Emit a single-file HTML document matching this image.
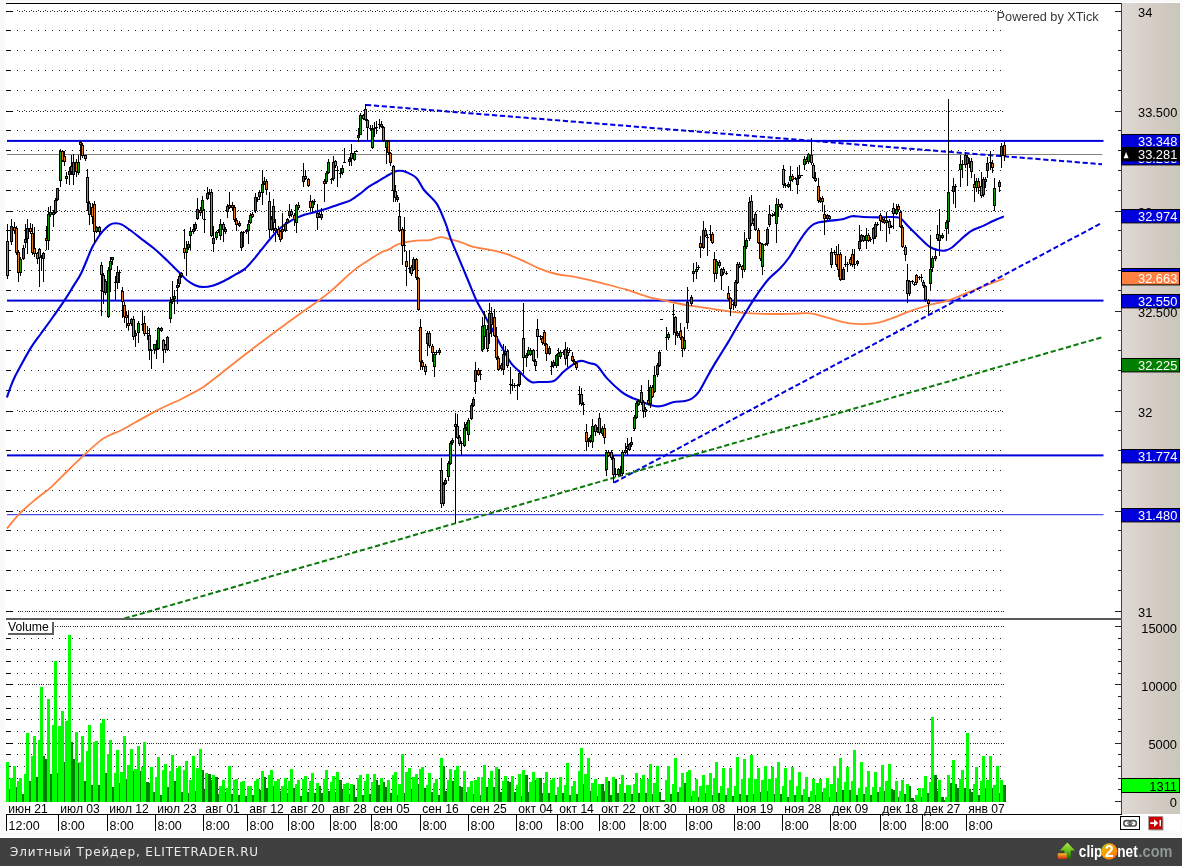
<!DOCTYPE html><html><head><meta charset="utf-8"><title>chart</title><style>
html,body{margin:0;padding:0;background:#f9f9f9;overflow:hidden}
svg{display:block}
text{font-family:"Liberation Sans",sans-serif;font-size:12.5px}
.f{font-family:"DejaVu Sans","Liberation Sans",sans-serif;font-size:12px;fill:#e9e9e9;letter-spacing:0.85px}
</style></head><body>
<svg width="1182" height="866" viewBox="0 0 1182 866">
<defs><linearGradient id="gs" x1="0" x2="1" y1="0" y2="0"><stop offset="0" stop-color="#e0d8d4"/><stop offset="0.55" stop-color="#d4ccc4"/><stop offset="1" stop-color="#c9c7ba"/></linearGradient></defs>
<rect x="0" y="0" width="1182" height="866" fill="#f9f9f9"/>
<rect x="5" y="2" width="1176.2" height="829.4" fill="#fff"/>
<rect x="1122" y="3" width="58" height="811" fill="url(#gs)"/>
<g shape-rendering="crispEdges" stroke="#000" stroke-width="1" fill="none"><path d="M6 11.5H13"/><path d="M19 11.5H1004" stroke-dasharray="1 2 1 2.92" stroke="#222"/><path d="M17 10.5H1004" stroke-dasharray="1 5.92" stroke="#222"/><path d="M1115 11.5H1121" stroke="#222"/><path d="M6 30.5H11"/><path d="M17 30.5H1001" stroke-dasharray="1 5.92" stroke="#222"/><path d="M1118 30.5H1121" stroke="#222"/><path d="M6 50.5H11"/><path d="M17 50.5H1001" stroke-dasharray="1 5.92" stroke="#222"/><path d="M1118 50.5H1121" stroke="#222"/><path d="M6 70.5H11"/><path d="M17 70.5H1001" stroke-dasharray="1 5.92" stroke="#222"/><path d="M1118 70.5H1121" stroke="#222"/><path d="M6 90.5H11"/><path d="M17 90.5H1001" stroke-dasharray="1 5.92" stroke="#222"/><path d="M1118 90.5H1121" stroke="#222"/><path d="M6 111.5H13"/><path d="M19 111.5H1004" stroke-dasharray="1 2 1 2.92" stroke="#222"/><path d="M17 110.5H1004" stroke-dasharray="1 5.92" stroke="#222"/><path d="M1115 111.5H1121" stroke="#222"/><path d="M6 130.5H11"/><path d="M17 130.5H1001" stroke-dasharray="1 5.92" stroke="#222"/><path d="M1118 130.5H1121" stroke="#222"/><path d="M6 150.5H11"/><path d="M17 150.5H1001" stroke-dasharray="1 5.92" stroke="#222"/><path d="M1118 150.5H1121" stroke="#222"/><path d="M6 170.5H11"/><path d="M17 170.5H1001" stroke-dasharray="1 5.92" stroke="#222"/><path d="M1118 170.5H1121" stroke="#222"/><path d="M6 190.5H11"/><path d="M17 190.5H1001" stroke-dasharray="1 5.92" stroke="#222"/><path d="M1118 190.5H1121" stroke="#222"/><path d="M6 211.5H13"/><path d="M19 211.5H1004" stroke-dasharray="1 2 1 2.92" stroke="#222"/><path d="M17 210.5H1004" stroke-dasharray="1 5.92" stroke="#222"/><path d="M1115 211.5H1121" stroke="#222"/><path d="M6 230.5H11"/><path d="M17 230.5H1001" stroke-dasharray="1 5.92" stroke="#222"/><path d="M1118 230.5H1121" stroke="#222"/><path d="M6 250.5H11"/><path d="M17 250.5H1001" stroke-dasharray="1 5.92" stroke="#222"/><path d="M1118 250.5H1121" stroke="#222"/><path d="M6 270.5H11"/><path d="M17 270.5H1001" stroke-dasharray="1 5.92" stroke="#222"/><path d="M1118 270.5H1121" stroke="#222"/><path d="M6 290.5H11"/><path d="M17 290.5H1001" stroke-dasharray="1 5.92" stroke="#222"/><path d="M1118 290.5H1121" stroke="#222"/><path d="M6 311.5H13"/><path d="M19 311.5H1004" stroke-dasharray="1 2 1 2.92" stroke="#222"/><path d="M17 310.5H1004" stroke-dasharray="1 5.92" stroke="#222"/><path d="M1115 311.5H1121" stroke="#222"/><path d="M6 330.5H11"/><path d="M17 330.5H1001" stroke-dasharray="1 5.92" stroke="#222"/><path d="M1118 330.5H1121" stroke="#222"/><path d="M6 350.5H11"/><path d="M17 350.5H1001" stroke-dasharray="1 5.92" stroke="#222"/><path d="M1118 350.5H1121" stroke="#222"/><path d="M6 370.5H11"/><path d="M17 370.5H1001" stroke-dasharray="1 5.92" stroke="#222"/><path d="M1118 370.5H1121" stroke="#222"/><path d="M6 390.5H11"/><path d="M17 390.5H1001" stroke-dasharray="1 5.92" stroke="#222"/><path d="M1118 390.5H1121" stroke="#222"/><path d="M6 411.5H13"/><path d="M19 411.5H1004" stroke-dasharray="1 2 1 2.92" stroke="#222"/><path d="M17 410.5H1004" stroke-dasharray="1 5.92" stroke="#222"/><path d="M1115 411.5H1121" stroke="#222"/><path d="M6 430.5H11"/><path d="M17 430.5H1001" stroke-dasharray="1 5.92" stroke="#222"/><path d="M1118 430.5H1121" stroke="#222"/><path d="M6 450.5H11"/><path d="M17 450.5H1001" stroke-dasharray="1 5.92" stroke="#222"/><path d="M1118 450.5H1121" stroke="#222"/><path d="M6 470.5H11"/><path d="M17 470.5H1001" stroke-dasharray="1 5.92" stroke="#222"/><path d="M1118 470.5H1121" stroke="#222"/><path d="M6 490.5H11"/><path d="M17 490.5H1001" stroke-dasharray="1 5.92" stroke="#222"/><path d="M1118 490.5H1121" stroke="#222"/><path d="M6 511.5H13"/><path d="M19 511.5H1004" stroke-dasharray="1 2 1 2.92" stroke="#222"/><path d="M17 510.5H1004" stroke-dasharray="1 5.92" stroke="#222"/><path d="M1115 511.5H1121" stroke="#222"/><path d="M6 530.5H11"/><path d="M17 530.5H1001" stroke-dasharray="1 5.92" stroke="#222"/><path d="M1118 530.5H1121" stroke="#222"/><path d="M6 550.5H11"/><path d="M17 550.5H1001" stroke-dasharray="1 5.92" stroke="#222"/><path d="M1118 550.5H1121" stroke="#222"/><path d="M6 570.5H11"/><path d="M17 570.5H1001" stroke-dasharray="1 5.92" stroke="#222"/><path d="M1118 570.5H1121" stroke="#222"/><path d="M6 590.5H11"/><path d="M17 590.5H1001" stroke-dasharray="1 5.92" stroke="#222"/><path d="M1118 590.5H1121" stroke="#222"/><path d="M6 611.5H13"/><path d="M18 611.5H1004" stroke-dasharray="1 1 1 1 1 1.92" stroke="#222"/><path d="M1115 611.5H1121" stroke="#222"/><path d="M6 801.5H13"/><path d="M1115 801.5H1121" stroke="#222"/><path d="M6 789.5H11"/><path d="M17 789.5H1001" stroke-dasharray="1 5.92" stroke="#222"/><path d="M1118 789.5H1121" stroke="#222"/><path d="M6 778.5H11"/><path d="M17 778.5H1001" stroke-dasharray="1 5.92" stroke="#222"/><path d="M1118 778.5H1121" stroke="#222"/><path d="M6 766.5H11"/><path d="M17 766.5H1001" stroke-dasharray="1 5.92" stroke="#222"/><path d="M1118 766.5H1121" stroke="#222"/><path d="M6 754.5H11"/><path d="M17 754.5H1001" stroke-dasharray="1 5.92" stroke="#222"/><path d="M1118 754.5H1121" stroke="#222"/><path d="M6 743.5H13"/><path d="M18 743.5H1004" stroke-dasharray="1 1 1 1 1 1.92" stroke="#222"/><path d="M1115 743.5H1121" stroke="#222"/><path d="M6 731.5H11"/><path d="M17 731.5H1001" stroke-dasharray="1 5.92" stroke="#222"/><path d="M1118 731.5H1121" stroke="#222"/><path d="M6 719.5H11"/><path d="M17 719.5H1001" stroke-dasharray="1 5.92" stroke="#222"/><path d="M1118 719.5H1121" stroke="#222"/><path d="M6 708.5H11"/><path d="M17 708.5H1001" stroke-dasharray="1 5.92" stroke="#222"/><path d="M1118 708.5H1121" stroke="#222"/><path d="M6 696.5H11"/><path d="M17 696.5H1001" stroke-dasharray="1 5.92" stroke="#222"/><path d="M1118 696.5H1121" stroke="#222"/><path d="M6 684.5H13"/><path d="M18 684.5H1004" stroke-dasharray="1 1 1 1 1 1.92" stroke="#222"/><path d="M1115 684.5H1121" stroke="#222"/><path d="M6 673.5H11"/><path d="M17 673.5H1001" stroke-dasharray="1 5.92" stroke="#222"/><path d="M1118 673.5H1121" stroke="#222"/><path d="M6 661.5H11"/><path d="M17 661.5H1001" stroke-dasharray="1 5.92" stroke="#222"/><path d="M1118 661.5H1121" stroke="#222"/><path d="M6 649.5H11"/><path d="M17 649.5H1001" stroke-dasharray="1 5.92" stroke="#222"/><path d="M1118 649.5H1121" stroke="#222"/><path d="M6 638.5H11"/><path d="M17 638.5H1001" stroke-dasharray="1 5.92" stroke="#222"/><path d="M1118 638.5H1121" stroke="#222"/><path d="M6 626.5H13"/><path d="M18 626.5H1004" stroke-dasharray="1 1 1 1 1 1.92" stroke="#222"/><path d="M1115 626.5H1121" stroke="#222"/></g>
<g>
<rect x="7" y="139.9" width="1096.5" height="2" fill="#0000dd"/>
<rect x="7" y="154" width="1095.3" height="1" fill="#808080"/>
<rect x="7" y="299.6" width="1096.5" height="2" fill="#0000dd"/>
<rect x="7" y="454.4" width="1096.5" height="2" fill="#0000dd"/>
<rect x="7" y="514.2" width="1096.5" height="1" fill="#2020e0"/>
</g>
<path d="M6.9 528.5C9.1 525.9 16.1 517 20.8 512.3C25.5 507.6 31 503.2 36 499C41 494.8 46.9 490.9 52 486.3C57.1 481.7 62.8 475.6 68 470.5C73.2 465.4 79.6 459.2 84.8 454.4C90 449.6 96.4 443.7 100.4 440.6C104.4 437.5 106.7 436.7 110 435C113.3 433.3 117 432.3 121.2 430.2C125.4 428.1 131 424.8 136 422C141 419.2 147.6 415.5 152.4 412.9C157.2 410.3 161.6 408.1 166 406C170.4 403.9 176.2 401.5 180 399.7C183.8 397.9 186.7 396.3 190 394.5C193.3 392.7 197.4 390.8 200.9 388.6C204.4 386.4 208.1 383.4 212 380.5C215.9 377.6 219 375 225 370.3C231 365.6 241.1 357.6 249.4 351.2C257.7 344.8 268.1 336.9 277 330.4C285.9 323.9 298.1 315.1 304.8 310.3C311.5 305.5 314.2 303.9 318.6 300.6C323 297.3 327 294.4 332.5 289.6C338 284.8 347.7 275.4 353.2 270.9C358.7 266.4 362.7 264.1 367.1 261.2C371.5 258.3 377.3 254.5 381 252.5C384.7 250.5 387.2 250.3 390 248.9C392.8 247.5 394.5 245.3 398.7 244C402.9 242.7 411 241.3 416 240.7C421 240.1 425.9 240.8 429.8 240.2C433.7 239.6 436.9 237.2 440.2 237.1C443.5 237 447 238.5 450.6 239.4C454.2 240.3 459.1 241.6 462.7 242.8C466.3 244 468.1 245.6 473.1 246.8C478.1 248 488.4 249.4 493.9 250.6C499.4 251.8 503.3 252.9 507.7 254.4C512.1 255.9 516.6 257.9 521.6 260.1C526.6 262.3 533.4 266.1 538.9 268.3C544.4 270.5 550.7 272.7 556.2 274C561.7 275.3 568.1 275.6 573.5 276.6C578.9 277.6 584.6 278.8 590 280.1C595.4 281.4 601.5 283 607.3 284.5C613.1 286 620 287.8 626.4 289.7C632.8 291.6 640.7 294.8 647.1 296.6C653.5 298.4 659.8 299.5 666.2 300.9C672.6 302.3 679.8 304 687 305.2C694.2 306.4 704.6 307.7 711.2 308.7C717.8 309.7 723 310.6 728.5 311.3C734 312 740.2 312.6 745.8 313C751.4 313.4 756.1 313.8 763.2 313.9C770.3 314 782.5 314 790 313.9C797.5 313.8 804 312.7 810 313.3C816 313.9 820.9 316.1 827.3 317.7C833.7 319.3 842.3 322.5 849.8 323.4C857.3 324.3 867.3 324.2 874 323.4C880.7 322.6 885.8 320.4 891.4 318.5C897 316.6 902.9 313.7 908.7 311.6C914.5 309.5 921.3 307.3 927.7 305.5C934.1 303.7 942.4 302.2 948.5 300.3C954.6 298.4 960.2 295.6 965.8 293.4C971.4 291.2 977.1 288.9 983.2 286.5C989.3 284.1 1000.6 279.9 1003.9 278.7" fill="none" stroke="#ff8040" stroke-width="1.8" stroke-linejoin="round"/>
<path d="M6.9 397.5C7.5 395.8 9.2 390.4 10.5 387C11.8 383.6 13.6 379.3 15.2 376C16.8 372.7 17.9 371 20.3 366.6C22.7 362.2 27.3 353.6 30.5 348.4C33.7 343.2 37.4 338.5 40.6 334C43.8 329.5 46.9 325.5 50.8 320C54.7 314.5 61.4 305 65 299.6C68.6 294.2 70.6 290.7 73.2 286.4C75.8 282.1 78.4 279 81.3 273C84.2 267 89.1 254.1 91.5 248.8C93.9 243.5 94.9 242.6 96.5 240C98.1 237.4 99.5 234.9 101.6 232.5C103.7 230.1 107.4 226.3 109.7 224.8C112 223.3 113.8 223.2 115.8 223.2C117.8 223.2 119.4 223.3 122 224.6C124.6 225.9 128.8 229.1 132 231.5C135.2 233.9 138.7 236.8 142.3 239.6C145.9 242.4 150.5 245.5 154.4 248.8C158.3 252.1 162.7 256.3 166.6 260C170.5 263.7 175.5 268.8 178.8 272C182.1 275.2 184.4 278.2 187 280.3C189.6 282.4 192.4 284.1 195 285.2C197.6 286.3 200.3 287 203.2 287C206.1 287 210.2 286.3 213.4 285.4C216.6 284.5 220.3 282.9 223.5 281.3C226.7 279.7 230.2 277.6 233.7 275.6C237.2 273.6 242 271.2 245.2 268.6C248.4 266 250.8 262.7 253.9 259.1C257 255.5 261.3 249.8 264.3 246.1C267.3 242.4 270.1 238.8 272.9 235.7C275.7 232.6 278.5 229.5 281.6 227C284.7 224.5 288.7 221.9 292 220.1C295.3 218.3 299.1 216.7 302.4 215.5C305.7 214.3 309.4 213.6 312.7 212.7C316 211.8 319.8 210.7 323.1 209.7C326.4 208.7 330.2 207.4 333.5 206.3C336.8 205.2 341.1 203.8 343.9 202.8C346.7 201.8 348.3 201.6 350.8 200.2C353.3 198.8 356.7 196.3 359.5 194.2C362.3 192.1 365.4 189.2 368.2 187.2C371 185.2 374 183.7 376.8 182C379.6 180.3 382.7 178.4 385.5 176.8C388.3 175.2 392.1 172.7 394.4 171.7C396.7 170.7 397.7 170.8 399.6 170.8C401.5 170.8 403.3 170.8 406 172C408.7 173.2 413.5 175.1 416.4 178C419.3 180.9 420.7 185.9 424 190C427.3 194.1 433.4 198.6 436.8 203.9C440.2 209.2 443.2 217.4 445.4 222.9C447.6 228.4 448.4 232.7 450.6 238.5C452.8 244.3 456.5 252.7 459.3 259.3C462.1 265.9 465.1 273.4 467.9 280C470.7 286.6 474 295.2 476.6 300.8C479.2 306.4 482.5 311.1 484.4 314.7C486.3 318.3 486.9 320 488.7 323.3C490.5 326.6 493.4 331.5 495.6 335.5C497.8 339.5 500.1 344.2 502.6 348.6C505.1 353 508.4 359.6 511.2 363.3C514 367 517.4 369.5 519.9 372C522.4 374.5 524.9 377.3 526.8 378.9C528.7 380.5 530.1 381.8 532 382.3C533.9 382.8 535.4 382.2 538.9 382C542.4 381.8 549.7 382.6 553.6 381C557.5 379.4 560.3 374.5 563.2 372C566.1 369.5 569.4 367.1 571.8 365.4C574.2 363.7 576.1 362.3 577.9 361.6C579.7 360.9 581.1 360.7 583 361C584.9 361.3 587.8 362.6 590 363.3C592.2 364 594.2 363.2 597 365.6C599.8 368 603.4 374.4 607.3 378.6C611.2 382.8 617.6 388.7 621.2 391.6C624.8 394.5 626.8 395.3 629.8 396.8C632.8 398.3 637.1 399.8 640.2 401C643.3 402.2 646.4 403.7 648.9 404.5C651.4 405.3 653.6 406.1 655.8 406.3C658 406.5 659.9 406.4 662.7 405.8C665.5 405.2 669.4 403.1 673 402.3C676.6 401.5 682.2 401.6 685.2 401C688.2 400.4 689.8 400 692 398.5C694.2 397 696.5 395.2 699 391.6C701.5 388 705.2 380.4 707.7 376C710.2 371.6 712.2 368.1 714.7 363.9C717.2 359.7 721.1 353.6 723.3 350C725.5 346.4 725.7 346.3 728.5 341.6C731.3 336.9 736.4 327.7 740.6 320.8C744.8 313.9 750.1 304.9 754.5 298.3C758.9 291.7 764.3 284.1 768.4 279.3C772.5 274.5 776.8 271.9 780 268.5C783.2 265.1 785.9 261.9 788.7 258C791.5 254.1 794.9 248.2 797.4 244.3C799.9 240.4 802.1 236.8 804.3 233.9C806.5 231 809 227.8 811.2 226C813.4 224.2 815.2 223.4 818 222.6C820.8 221.8 824.6 221.4 828.5 220.9C832.4 220.4 838.7 220 842.4 219.2C846.1 218.4 848.6 216.6 851.9 216.2C855.2 215.8 858.9 216.8 863.2 217C867.5 217.2 874.4 217.4 878.7 217.4C883 217.4 886.6 216.9 890 217C893.4 217.1 897.3 216.8 900 218.1C902.7 219.4 904.2 222.2 907 225C909.8 227.8 913.8 231.9 917.4 235.4C921 238.9 926.2 244.3 929.5 246.7C932.8 249.1 935.6 249.5 938.1 250.1C940.6 250.7 942.8 251 945 250.6C947.2 250.2 949.5 249.2 952 247.5C954.5 245.8 957.6 242.3 960.6 239.7C963.6 237.1 967.4 233.3 971 231.1C974.6 228.9 979.6 227.6 983.2 225.9C986.8 224.2 990.2 222.2 993.5 220.7C996.8 219.2 1002.2 217.1 1003.9 216.4" fill="none" stroke="#0000dd" stroke-width="2.1" stroke-linejoin="round"/>
<path d="M366 104.9L1102 164.2" fill="none" stroke="#0000e0" stroke-width="2" stroke-dasharray="5.2 2.7"/>
<path d="M614.2 482.5L1102 222.8" fill="none" stroke="#0000e0" stroke-width="2" stroke-dasharray="5.2 2.7"/>
<path d="M124.5 618.5L1102 337.3" fill="none" stroke="#0a7a0a" stroke-width="2" stroke-dasharray="5.2 2.7"/>
<g shape-rendering="crispEdges" fill="none" stroke-width="1">
<path stroke="#000" d="M7.5 224V279M11.5 219V245M14.5 222V234M16.5 226V255M18.5 250V282M20.5 257V276M23.5 245V260M25.5 224V248M27.5 219V254M30.5 223V234M32.5 224V255M34.5 227V257M37.5 252V264M39.5 248V287M41.5 255V271M43.5 252V282M46.5 226V250M48.5 207V250M50.5 206V217M53.5 210V227M55.5 198V214M57.5 188V201M60.5 149V187M62.5 150V162M64.5 151V166M66.5 172V184M69.5 167V185M71.5 155V175M73.5 154V185M76.5 159V177M78.5 155V175M80.5 141V160M82.5 143V158M85.5 155V161M87.5 169V211M89.5 201V225M92.5 203V224M94.5 201V243M96.5 226V233M99.5 226V236M101.5 262V316M103.5 273V304M105.5 279V295M108.5 267V318M110.5 257V292M112.5 257V265M115.5 276V300M117.5 266V289M119.5 270V283M122.5 287V318M124.5 302V323M126.5 312V328M128.5 311V330M131.5 318V326M133.5 316V340M135.5 331V347M138.5 321V343M142.5 311V331M144.5 316V336M147.5 326V340M149.5 328V360M151.5 349V369M154.5 344V354M156.5 340V359M158.5 327V350M161.5 327V332M163.5 339V363M165.5 344V353M167.5 336V351M170.5 297V323M172.5 281V304M174.5 290V314M177.5 279V304M179.5 273V287M181.5 272V278M184.5 229V259M186.5 241V276M188.5 241V250M190.5 227V250M193.5 224V234M195.5 222V231M197.5 198V220M200.5 207V216M202.5 196V219M204.5 209V233M207.5 187V200M209.5 189V195M211.5 189V237M213.5 226V252M216.5 231V240M218.5 229V233M220.5 219V240M223.5 222V242M225.5 227V234M227.5 204V218M229.5 192V209M232.5 202V211M234.5 205V222M236.5 218V231M239.5 221V227M241.5 231V251M243.5 231V247M246.5 229V234M248.5 220V244M250.5 213V224M252.5 212V218M255.5 193V213M257.5 197V202M259.5 190V200M262.5 170V205M264.5 177V185M266.5 179V195M269.5 192V238M271.5 216V231M273.5 199V233M275.5 219V242M278.5 226V237M280.5 230V242M282.5 213V239M285.5 222V232M287.5 218V224M289.5 204V218M291.5 209V217M294.5 213V226M296.5 204V233M298.5 202V210M303.5 163V187M305.5 170V180M308.5 178V187M310.5 195V211M312.5 200V212M314.5 199V205M317.5 204V230M319.5 212V218M321.5 208V220M324.5 179V202M326.5 171V184M328.5 159V174M331.5 178V184M333.5 156V181M335.5 160V168M337.5 166V187M340.5 168V178M342.5 165V175M344.5 148V163M349.5 157V166M351.5 144V166M354.5 151V161M356.5 150V152M358.5 128V142M360.5 113V135M363.5 114V120M365.5 104V121M367.5 119V140M370.5 125V130M372.5 125V149M374.5 122V137M376.5 121V134M379.5 119V129M381.5 121V128M383.5 126V142M386.5 140V164M388.5 140V155M390.5 152V166M393.5 165V202M395.5 185V202M397.5 195V202M399.5 203V232M402.5 227V265M404.5 217V252M406.5 251V286M409.5 250V273M411.5 265V276M413.5 257V271M416.5 258V280M418.5 277V311M420.5 319V370M422.5 360V370M425.5 364V375M427.5 331V356M429.5 331V348M432.5 344V362M434.5 352V377M436.5 350V355M439.5 348V355M441.5 458V508M443.5 482V506M445.5 478V485M448.5 461V481M450.5 441V465M452.5 438V445M455.5 413V523M457.5 414V439M459.5 435V446M461.5 441V455M464.5 422V447M466.5 422V431M468.5 418V441M471.5 403V420M473.5 397V407M475.5 362V394M478.5 368V376M480.5 370V380M482.5 317V352M484.5 311V349M487.5 325V352M489.5 303V344M491.5 307V337M494.5 309V337M496.5 327V360M498.5 356V371M501.5 363V371M503.5 344V375M505.5 346V355M507.5 349V368M510.5 367V394M512.5 379V391M514.5 383V388M517.5 384V400M519.5 370V387M523.5 303V374M526.5 353V367M528.5 347V356M530.5 348V356M533.5 349V362M535.5 359V371M537.5 319V358M540.5 335V340M542.5 336V345M544.5 330V346M546.5 343V361M549.5 346V355M551.5 361V375M553.5 360V368M556.5 354V368M558.5 348V366M560.5 350V359M563.5 350V355M565.5 342V365M567.5 347V367M569.5 348V353M572.5 352V362M574.5 359V365M576.5 362V370M579.5 386V405M581.5 388V406M583.5 402V415M586.5 424V451M588.5 438V447M590.5 435V443M592.5 419V448M595.5 424V436M597.5 427V433M599.5 413V435M602.5 426V436M604.5 424V444M606.5 450V476M608.5 450V457M611.5 450V460M613.5 456V483M615.5 468V477M618.5 468V476M620.5 466V476M622.5 450V476M625.5 443V454M627.5 438V455M629.5 443V451M631.5 437V447M634.5 415V431M636.5 401V419M638.5 399V406M641.5 385V405M643.5 400V418M645.5 407V417M648.5 380V405M650.5 385V408M652.5 385V398M654.5 366V393M657.5 363V377M659.5 350V367M661.5 319V320M666.5 327V350M668.5 332V340M673.5 304V335M675.5 316V345M677.5 331V338M680.5 323V340M682.5 336V357M684.5 327V351M687.5 287V329M691.5 295V306M693.5 263V282M696.5 262V279M698.5 265V270M700.5 236V258M703.5 221V249M705.5 228V237M707.5 234V256M710.5 225V241M712.5 232V244M714.5 252V282M716.5 259V279M719.5 260V268M721.5 268V290M723.5 267V275M726.5 271V275M728.5 286V301M730.5 297V316M733.5 302V310M735.5 280V308M737.5 262V284M739.5 262V268M742.5 265V278M744.5 232V272M746.5 238V249M749.5 197V241M751.5 195V226M753.5 218V226M755.5 212V231M758.5 228V244M760.5 242V261M762.5 243V275M765.5 243V246M767.5 227V246M769.5 205V227M772.5 213V217M774.5 212V216M776.5 198V243M778.5 199V217M781.5 203V210M783.5 165V188M785.5 183V188M788.5 182V188M790.5 166V191M792.5 174V182M795.5 177V180M797.5 167V194M799.5 165V179M801.5 175V176M804.5 156V170M806.5 157V164M808.5 153V164M811.5 138V165M813.5 163V179M815.5 172V182M818.5 178V203M820.5 197V203M822.5 196V212M824.5 205V235M827.5 214V221M829.5 215V220M831.5 248V268M834.5 250V255M836.5 246V267M838.5 244V277M840.5 252V281M843.5 267V280M845.5 256V267M847.5 262V272M850.5 257V266M852.5 249V267M854.5 249V269M857.5 260V266M859.5 225V251M861.5 234V242M863.5 235V242M866.5 228V249M868.5 233V242M870.5 237V242M873.5 227V244M875.5 222V239M877.5 222V226M880.5 213V231M882.5 217V223M884.5 218V224M886.5 212V242M889.5 219V234M891.5 225V228M893.5 203V229M896.5 204V215M898.5 204V212M900.5 210V228M902.5 225V248M905.5 245V261M907.5 264V303M909.5 280V296M912.5 280V284M914.5 282V286M916.5 274V285M919.5 276V280M921.5 274V282M923.5 280V288M925.5 285V302M928.5 299V314M930.5 235V291M932.5 256V272M935.5 249V261M937.5 225V241M939.5 209V256M942.5 233V239M946.5 220V241M948.5 99V234M953.5 178V204M955.5 184V208M960.5 155V187M962.5 160V178M965.5 152V168M967.5 155V186M969.5 158V168M971.5 158V178M974.5 174V202M976.5 178V192M978.5 178V194M981.5 172V198M983.5 177V197M985.5 177V188M987.5 157V178M990.5 151V170M992.5 160V173M994.5 178V211M999.5 180V192M1001.5 143V168M1004.5 142V161"/>
<path fill="#000" stroke="none" d="M6 241h3v35h-3zM10 226h3v16h-3zM13 227h3v4h-3zM15 228h3v25h-3zM17 252h3v21h-3zM19 259h3v14h-3zM22 248h3v11h-3zM24 239h3v4h-3zM26 228h3v11h-3zM29 228h3v4h-3zM31 233h3v20h-3zM33 248h3v6h-3zM36 253h3v6h-3zM38 249h3v9h-3zM40 257h3v1h-3zM42 253h3v6h-3zM45 238h3v3h-3zM47 214h3v27h-3zM49 212h3v3h-3zM52 212h3v3h-3zM54 200h3v13h-3zM56 188h3v12h-3zM59 151h3v30h-3zM61 151h3v10h-3zM63 156h3v6h-3zM65 176h3v3h-3zM68 171h3v4h-3zM70 166h3v6h-3zM72 162h3v13h-3zM75 162h3v10h-3zM77 162h3v11h-3zM79 142h3v3h-3zM81 145h3v11h-3zM84 155h3v4h-3zM86 177h3v26h-3zM88 203h3v12h-3zM91 207h3v10h-3zM93 204h3v28h-3zM95 227h3v5h-3zM98 227h3v5h-3zM100 265h3v10h-3zM102 275h3v17h-3zM104 281h3v12h-3zM107 270h3v47h-3zM109 261h3v9h-3zM111 257h3v3h-3zM114 282h3v1h-3zM116 272h3v11h-3zM118 272h3v1h-3zM121 291h3v11h-3zM123 305h3v12h-3zM125 315h3v3h-3zM127 323h3v3h-3zM130 319h3v5h-3zM132 319h3v18h-3zM134 333h3v3h-3zM137 323h3v10h-3zM141 324h3v1h-3zM143 323h3v11h-3zM146 333h3v1h-3zM148 335h3v15h-3zM150 350h3v1h-3zM153 344h3v6h-3zM155 349h3v1h-3zM157 328h3v21h-3zM160 328h3v3h-3zM162 340h3v10h-3zM164 345h3v5h-3zM166 337h3v13h-3zM169 302h3v17h-3zM171 299h3v3h-3zM173 296h3v3h-3zM176 285h3v3h-3zM178 276h3v8h-3zM180 273h3v3h-3zM183 248h3v5h-3zM185 248h3v5h-3zM187 244h3v4h-3zM189 231h3v5h-3zM192 229h3v3h-3zM194 224h3v5h-3zM196 209h3v10h-3zM199 210h3v3h-3zM201 200h3v11h-3zM203 219h3v1h-3zM206 193h3v6h-3zM208 192h3v1h-3zM210 192h3v44h-3zM212 238h3v6h-3zM215 232h3v6h-3zM217 230h3v1h-3zM219 224h3v12h-3zM222 224h3v6h-3zM224 229h3v3h-3zM226 206h3v6h-3zM228 205h3v3h-3zM231 205h3v3h-3zM233 207h3v13h-3zM235 220h3v5h-3zM238 223h3v3h-3zM240 232h3v16h-3zM242 232h3v1h-3zM245 231h3v1h-3zM247 224h3v7h-3zM249 215h3v8h-3zM251 214h3v3h-3zM254 197h3v14h-3zM256 199h3v1h-3zM258 192h3v5h-3zM261 184h3v9h-3zM263 181h3v3h-3zM265 181h3v9h-3zM268 201h3v29h-3zM270 219h3v11h-3zM272 206h3v17h-3zM274 228h3v3h-3zM277 229h3v6h-3zM279 231h3v9h-3zM281 229h3v3h-3zM284 224h3v7h-3zM286 219h3v4h-3zM288 211h3v5h-3zM290 211h3v4h-3zM293 215h3v5h-3zM295 205h3v18h-3zM297 205h3v3h-3zM302 176h3v6h-3zM304 176h3v3h-3zM307 179h3v7h-3zM309 201h3v7h-3zM311 202h3v6h-3zM313 201h3v1h-3zM316 213h3v5h-3zM318 214h3v3h-3zM320 214h3v4h-3zM323 181h3v3h-3zM325 173h3v9h-3zM327 162h3v11h-3zM330 179h3v1h-3zM332 162h3v17h-3zM334 161h3v5h-3zM336 170h3v1h-3zM339 173h3v1h-3zM341 168h3v5h-3zM343 162h3v1h-3zM348 159h3v3h-3zM350 153h3v6h-3zM353 153h3v7h-3zM355 151h3v1h-3zM357 135h3v3h-3zM359 115h3v20h-3zM362 115h3v4h-3zM364 109h3v11h-3zM366 120h3v8h-3zM369 128h3v1h-3zM371 129h3v19h-3zM373 128h3v1h-3zM375 127h3v1h-3zM378 124h3v1h-3zM380 124h3v3h-3zM382 127h3v14h-3zM385 141h3v7h-3zM387 141h3v12h-3zM389 153h3v10h-3zM392 166h3v25h-3zM394 191h3v7h-3zM396 197h3v3h-3zM398 216h3v15h-3zM401 229h3v17h-3zM403 245h3v1h-3zM405 261h3v6h-3zM408 268h3v1h-3zM410 267h3v7h-3zM412 259h3v11h-3zM415 259h3v19h-3zM417 278h3v32h-3zM419 327h3v35h-3zM421 362h3v5h-3zM424 366h3v6h-3zM426 333h3v11h-3zM428 333h3v13h-3zM431 346h3v7h-3zM433 354h3v13h-3zM435 352h3v1h-3zM438 350h3v3h-3zM440 470h3v34h-3zM442 484h3v20h-3zM444 480h3v4h-3zM447 463h3v14h-3zM449 443h3v21h-3zM451 440h3v3h-3zM454 424h3v3h-3zM456 426h3v12h-3zM458 437h3v7h-3zM460 443h3v1h-3zM463 428h3v18h-3zM465 424h3v4h-3zM467 420h3v15h-3zM470 405h3v14h-3zM472 399h3v7h-3zM474 370h3v12h-3zM477 370h3v5h-3zM479 374h3v1h-3zM481 326h3v24h-3zM483 325h3v12h-3zM486 329h3v20h-3zM488 313h3v21h-3zM490 313h3v12h-3zM493 317h3v19h-3zM495 336h3v22h-3zM497 358h3v12h-3zM500 365h3v4h-3zM502 354h3v16h-3zM504 351h3v3h-3zM506 351h3v15h-3zM509 384h3v1h-3zM511 385h3v1h-3zM513 385h3v1h-3zM516 385h3v1h-3zM518 373h3v12h-3zM522 338h3v20h-3zM525 355h3v3h-3zM527 350h3v5h-3zM529 350h3v5h-3zM532 350h3v11h-3zM534 361h3v5h-3zM536 329h3v8h-3zM539 336h3v1h-3zM541 338h3v5h-3zM543 332h3v12h-3zM545 344h3v10h-3zM548 348h3v6h-3zM550 366h3v1h-3zM552 362h3v4h-3zM555 355h3v11h-3zM557 353h3v4h-3zM559 352h3v5h-3zM562 352h3v1h-3zM564 349h3v10h-3zM566 352h3v4h-3zM568 350h3v1h-3zM571 356h3v5h-3zM573 361h3v3h-3zM575 363h3v5h-3zM578 394h3v1h-3zM580 394h3v10h-3zM582 404h3v1h-3zM585 432h3v10h-3zM587 441h3v1h-3zM589 437h3v4h-3zM591 426h3v16h-3zM594 425h3v7h-3zM596 429h3v3h-3zM598 418h3v15h-3zM601 428h3v6h-3zM603 428h3v10h-3zM605 452h3v18h-3zM607 452h3v4h-3zM610 452h3v6h-3zM612 458h3v17h-3zM614 474h3v1h-3zM617 469h3v6h-3zM619 473h3v1h-3zM621 452h3v22h-3zM624 450h3v3h-3zM626 446h3v3h-3zM628 444h3v6h-3zM630 442h3v3h-3zM633 417h3v12h-3zM635 403h3v15h-3zM637 401h3v4h-3zM640 392h3v11h-3zM642 402h3v9h-3zM644 409h3v3h-3zM647 400h3v4h-3zM649 387h3v17h-3zM651 387h3v10h-3zM653 375h3v17h-3zM656 365h3v10h-3zM658 352h3v14h-3zM660 319h3v1h-3zM665 337h3v1h-3zM667 334h3v4h-3zM672 314h3v1h-3zM674 317h3v16h-3zM676 333h3v3h-3zM679 331h3v7h-3zM681 337h3v12h-3zM683 340h3v9h-3zM686 302h3v21h-3zM690 297h3v7h-3zM692 271h3v3h-3zM695 269h3v3h-3zM697 267h3v1h-3zM699 243h3v5h-3zM702 230h3v18h-3zM704 230h3v6h-3zM706 237h3v1h-3zM709 234h3v1h-3zM711 234h3v9h-3zM713 259h3v15h-3zM715 261h3v13h-3zM718 262h3v4h-3zM720 269h3v7h-3zM722 269h3v4h-3zM725 273h3v1h-3zM727 293h3v6h-3zM729 298h3v11h-3zM732 304h3v1h-3zM734 282h3v24h-3zM736 264h3v19h-3zM738 264h3v3h-3zM741 266h3v4h-3zM743 246h3v24h-3zM745 240h3v7h-3zM748 202h3v37h-3zM750 201h3v23h-3zM752 220h3v4h-3zM754 214h3v16h-3zM757 230h3v13h-3zM759 243h3v16h-3zM761 244h3v23h-3zM764 244h3v1h-3zM766 229h3v15h-3zM768 214h3v11h-3zM771 215h3v1h-3zM773 214h3v1h-3zM775 204h3v20h-3zM777 204h3v3h-3zM780 204h3v4h-3zM782 169h3v16h-3zM784 185h3v1h-3zM787 184h3v3h-3zM789 176h3v5h-3zM791 176h3v4h-3zM794 178h3v1h-3zM796 178h3v7h-3zM798 175h3v3h-3zM800 175h3v1h-3zM803 159h3v6h-3zM805 159h3v3h-3zM807 154h3v8h-3zM810 155h3v8h-3zM812 165h3v13h-3zM814 178h3v3h-3zM817 186h3v15h-3zM819 199h3v3h-3zM821 198h3v4h-3zM823 214h3v5h-3zM826 215h3v4h-3zM828 216h3v3h-3zM830 252h3v13h-3zM833 252h3v1h-3zM835 254h3v11h-3zM837 254h3v16h-3zM839 254h3v26h-3zM842 269h3v11h-3zM844 264h3v1h-3zM846 264h3v1h-3zM849 259h3v5h-3zM851 254h3v11h-3zM853 264h3v1h-3zM856 261h3v3h-3zM858 241h3v8h-3zM860 235h3v6h-3zM862 236h3v5h-3zM865 235h3v6h-3zM867 235h3v6h-3zM869 239h3v1h-3zM872 228h3v11h-3zM874 224h3v13h-3zM876 224h3v1h-3zM879 215h3v6h-3zM881 219h3v3h-3zM883 220h3v3h-3zM885 220h3v3h-3zM888 221h3v7h-3zM890 226h3v1h-3zM892 208h3v6h-3zM895 209h3v5h-3zM897 206h3v4h-3zM899 212h3v15h-3zM901 227h3v20h-3zM904 247h3v8h-3zM906 280h3v14h-3zM908 281h3v13h-3zM911 281h3v1h-3zM913 284h3v1h-3zM915 275h3v8h-3zM918 277h3v1h-3zM920 277h3v1h-3zM922 282h3v4h-3zM924 286h3v14h-3zM927 300h3v4h-3zM929 269h3v15h-3zM931 258h3v10h-3zM934 256h3v3h-3zM936 234h3v5h-3zM938 235h3v6h-3zM941 235h3v3h-3zM945 222h3v7h-3zM947 192h3v30h-3zM952 186h3v6h-3zM954 186h3v1h-3zM959 164h3v6h-3zM961 164h3v1h-3zM964 155h3v10h-3zM966 157h3v7h-3zM968 162h3v1h-3zM970 161h3v11h-3zM973 184h3v4h-3zM975 181h3v7h-3zM977 181h3v7h-3zM980 186h3v10h-3zM982 179h3v16h-3zM984 179h3v3h-3zM986 163h3v8h-3zM989 162h3v1h-3zM991 163h3v5h-3zM993 188h3v18h-3zM998 182h3v5h-3zM1000 146h3v10h-3zM1003 145h3v11h-3z"/>
<path stroke="#0a9a0a" d="M11.5 227V241M20.5 260V272M23.5 249V258M25.5 240V242M27.5 229V238M43.5 254V258M48.5 215V240M50.5 213V214M53.5 213V214M55.5 201V212M57.5 189V199M60.5 152V180M66.5 177V178M69.5 172V174M71.5 167V171M73.5 163V174M78.5 163V172M96.5 228V231M105.5 282V292M108.5 271V316M110.5 262V269M112.5 258V259M117.5 273V282M131.5 320V323M135.5 334V335M138.5 324V332M154.5 345V349M158.5 329V348M167.5 338V349M170.5 303V318M172.5 300V301M174.5 297V298M177.5 286V287M179.5 277V283M181.5 274V275M186.5 249V252M188.5 245V247M190.5 232V235M193.5 230V231M195.5 225V228M197.5 210V218M202.5 201V210M207.5 194V198M213.5 239V243M216.5 233V237M220.5 225V235M227.5 207V211M229.5 206V207M239.5 224V225M241.5 233V247M248.5 225V230M250.5 216V222M255.5 198V210M259.5 193V196M262.5 185V192M264.5 182V183M271.5 220V229M273.5 207V222M285.5 225V230M287.5 220V222M289.5 212V215M296.5 206V222M303.5 177V181M312.5 203V207M321.5 215V217M326.5 174V181M328.5 163V172M333.5 163V178M342.5 169V172M349.5 160V161M354.5 154V159M358.5 136V137M360.5 116V134M372.5 130V147M386.5 142V147M397.5 198V199M413.5 260V269M427.5 334V343M434.5 355V366M439.5 351V352M443.5 485V503M445.5 481V483M448.5 464V476M450.5 444V463M452.5 441V442M464.5 429V445M466.5 425V427M468.5 421V434M471.5 406V418M473.5 400V405M475.5 371V381M482.5 327V349M484.5 326V336M489.5 314V333M491.5 314V324M501.5 366V368M503.5 355V369M505.5 352V353M519.5 374V384M526.5 356V357M528.5 351V354M530.5 351V354M549.5 349V353M553.5 363V365M556.5 356V365M558.5 354V356M560.5 353V356M567.5 353V355M590.5 438V440M592.5 427V441M597.5 430V431M602.5 429V433M606.5 453V469M618.5 470V474M622.5 453V473M625.5 451V452M629.5 445V449M631.5 443V444M634.5 418V428M636.5 404V417M638.5 402V404M650.5 388V403M654.5 376V391M657.5 366V374M659.5 353V365M668.5 335V337M684.5 341V348M687.5 303V322M691.5 298V303M693.5 272V273M696.5 270V271M703.5 231V247M716.5 262V273M721.5 270V275M735.5 283V305M737.5 265V282M744.5 247V269M746.5 241V246M749.5 203V238M762.5 245V266M767.5 230V243M769.5 215V224M776.5 205V223M788.5 185V186M790.5 177V180M797.5 179V184M799.5 176V177M804.5 160V164M808.5 155V161M820.5 200V201M827.5 216V218M831.5 253V264M843.5 270V279M857.5 262V263M859.5 242V248M861.5 236V240M866.5 236V240M873.5 229V238M875.5 225V236M886.5 221V222M896.5 210V213M909.5 282V293M930.5 270V283M932.5 259V267M935.5 257V258M939.5 236V240M942.5 236V237M946.5 223V228M948.5 193V221M953.5 187V191M960.5 165V169M965.5 156V164M967.5 158V163M976.5 182V187M983.5 180V194M987.5 164V170M994.5 189V205M999.5 183V186M1001.5 147V155"/>
<path stroke="#e07818" d="M7.5 242V275M14.5 228V230M16.5 229V252M18.5 253V272M30.5 229V231M32.5 234V252M34.5 249V253M37.5 254V258M39.5 250V257M46.5 239V240M62.5 152V160M64.5 157V161M76.5 163V171M80.5 143V144M82.5 146V155M85.5 156V158M87.5 178V202M89.5 204V214M92.5 208V216M94.5 205V231M99.5 228V231M101.5 266V274M103.5 276V291M122.5 292V301M124.5 306V316M126.5 316V317M128.5 324V325M133.5 320V336M144.5 324V333M149.5 336V349M161.5 329V330M163.5 341V349M165.5 346V349M184.5 249V252M200.5 211V212M211.5 193V235M223.5 225V229M225.5 230V231M232.5 206V207M234.5 208V219M236.5 221V224M252.5 215V216M266.5 182V189M269.5 202V229M275.5 229V230M278.5 230V234M280.5 232V239M282.5 230V231M291.5 212V214M294.5 216V219M298.5 206V207M305.5 177V178M308.5 180V185M310.5 202V207M317.5 214V217M319.5 215V216M324.5 182V183M335.5 162V165M351.5 154V158M363.5 116V118M365.5 110V119M367.5 121V127M381.5 125V126M383.5 128V140M388.5 142V152M390.5 154V162M393.5 167V190M395.5 192V197M399.5 217V230M402.5 230V245M406.5 262V266M411.5 268V273M416.5 260V277M418.5 279V309M420.5 328V361M422.5 363V366M425.5 367V371M429.5 334V345M432.5 347V352M441.5 471V503M455.5 425V426M457.5 427V437M459.5 438V443M478.5 371V374M487.5 330V348M494.5 318V335M496.5 337V357M498.5 359V369M507.5 352V365M523.5 339V357M533.5 351V360M535.5 362V365M537.5 330V336M542.5 339V342M544.5 333V343M546.5 345V353M565.5 350V358M572.5 357V360M574.5 362V363M576.5 364V367M581.5 395V403M586.5 433V441M595.5 426V431M599.5 419V432M604.5 429V437M608.5 453V455M611.5 453V457M613.5 459V474M627.5 447V448M641.5 393V402M643.5 403V410M645.5 410V411M648.5 401V403M652.5 388V396M675.5 318V332M677.5 334V335M680.5 332V337M682.5 338V348M700.5 244V247M705.5 231V235M712.5 235V242M714.5 260V273M719.5 263V265M723.5 270V272M728.5 294V298M730.5 299V308M739.5 265V266M742.5 267V269M751.5 202V223M753.5 221V223M755.5 215V229M758.5 231V242M760.5 244V258M778.5 205V206M781.5 205V207M783.5 170V184M792.5 177V179M806.5 160V161M811.5 156V162M813.5 166V177M815.5 179V180M818.5 187V200M822.5 199V201M824.5 215V218M829.5 217V218M836.5 255V264M838.5 255V269M840.5 255V279M850.5 260V263M852.5 255V264M863.5 237V240M868.5 236V240M880.5 216V220M882.5 220V221M884.5 221V222M889.5 222V227M893.5 209V213M898.5 207V209M900.5 213V226M902.5 228V246M905.5 248V254M907.5 281V293M916.5 276V282M923.5 283V285M925.5 287V299M928.5 301V303M937.5 235V238M971.5 162V171M974.5 185V187M978.5 182V187M981.5 187V195M985.5 180V181M992.5 164V167M1004.5 146V155"/>
</g>
<g shape-rendering="crispEdges" stroke="none"><path fill="#008000" d="M8 789h3V802h-3zM15 787h3V802h-3zM22 794h3V802h-3zM29 781h3V802h-3zM36 777h3V802h-3zM42 756h3V802h-3zM45 759h3V802h-3zM49 774h3V802h-3zM56 773h3V802h-3zM63 762h3V802h-3zM70 742h3V802h-3zM72 759h3V802h-3zM77 763h3V802h-3zM84 781h3V802h-3zM91 785h3V802h-3zM98 785h3V802h-3zM104 773h3V802h-3zM111 787h3V802h-3zM118 783h3V802h-3zM125 779h3V802h-3zM132 771h3V802h-3zM139 771h3V802h-3zM146 782h3V802h-3zM148 783h3V802h-3zM153 792h3V802h-3zM160 795h3V802h-3zM166 787h3V802h-3zM173 781h3V802h-3zM180 792h3V802h-3zM187 793h3V802h-3zM194 791h3V802h-3zM201 770h3V802h-3zM203 790h3V802h-3zM208 774h3V802h-3zM210 780h3V802h-3zM215 777h3V802h-3zM217 794h3V802h-3zM224 792h3V802h-3zM231 794h3V802h-3zM238 795h3V802h-3zM245 796h3V802h-3zM251 795h3V802h-3zM258 790h3V802h-3zM263 777h3V802h-3zM265 788h3V802h-3zM272 786h3V802h-3zM279 791h3V802h-3zM286 793h3V802h-3zM293 788h3V802h-3zM300 796h3V802h-3zM307 792h3V802h-3zM313 793h3V802h-3zM318 786h3V802h-3zM320 793h3V802h-3zM327 791h3V802h-3zM334 792h3V802h-3zM339 780h3V802h-3zM341 790h3V802h-3zM348 794h3V802h-3zM352 785h3V802h-3zM355 797h3V802h-3zM362 795h3V802h-3zM369 794h3V802h-3zM375 780h3V802h-3zM378 785h3V802h-3zM382 782h3V802h-3zM385 787h3V802h-3zM389 793h3V802h-3zM396 795h3V802h-3zM403 793h3V802h-3zM410 790h3V802h-3zM417 784h3V802h-3zM424 788h3V802h-3zM431 792h3V802h-3zM437 795h3V802h-3zM442 766h3V802h-3zM444 791h3V802h-3zM451 781h3V802h-3zM458 786h3V802h-3zM460 787h3V802h-3zM465 792h3V802h-3zM472 794h3V802h-3zM479 795h3V802h-3zM486 787h3V802h-3zM493 787h3V802h-3zM497 769h3V802h-3zM499 792h3V802h-3zM506 781h3V802h-3zM509 782h3V802h-3zM513 792h3V802h-3zM520 796h3V802h-3zM525 775h3V802h-3zM527 792h3V802h-3zM534 780h3V802h-3zM539 778h3V802h-3zM541 793h3V802h-3zM548 793h3V802h-3zM555 795h3V802h-3zM562 793h3V802h-3zM568 795h3V802h-3zM575 794h3V802h-3zM582 784h3V802h-3zM589 791h3V802h-3zM596 796h3V802h-3zM601 784h3V802h-3zM603 791h3V802h-3zM607 781h3V802h-3zM610 795h3V802h-3zM614 779h3V802h-3zM617 793h3V802h-3zM624 793h3V802h-3zM630 794h3V802h-3zM637 793h3V802h-3zM644 793h3V802h-3zM651 794h3V802h-3zM658 792h3V802h-3zM660 800h3V802h-3zM663 800h3V802h-3zM669 794h3V802h-3zM676 792h3V802h-3zM683 783h3V802h-3zM690 796h3V802h-3zM697 797h3V802h-3zM704 793h3V802h-3zM711 795h3V802h-3zM718 793h3V802h-3zM725 795h3V802h-3zM731 796h3V802h-3zM738 794h3V802h-3zM745 795h3V802h-3zM752 794h3V802h-3zM759 792h3V802h-3zM766 791h3V802h-3zM773 794h3V802h-3zM780 794h3V802h-3zM787 797h3V802h-3zM794 795h3V802h-3zM800 795h3V802h-3zM807 797h3V802h-3zM814 795h3V802h-3zM821 792h3V802h-3zM828 797h3V802h-3zM835 792h3V802h-3zM842 790h3V802h-3zM849 790h3V802h-3zM856 795h3V802h-3zM862 794h3V802h-3zM869 795h3V802h-3zM876 792h3V802h-3zM883 791h3V802h-3zM890 789h3V802h-3zM892 790h3V802h-3zM897 797h3V802h-3zM904 794h3V802h-3zM908 786h3V802h-3zM911 798h3V802h-3zM913 800h3V802h-3zM920 797h3V802h-3zM927 793h3V802h-3zM934 775h3V802h-3zM936 791h3V802h-3zM941 797h3V802h-3zM943 800h3V802h-3zM950 783h3V802h-3zM954 784h3V802h-3zM957 788h3V802h-3zM963 788h3V802h-3zM968 789h3V802h-3zM970 792h3V802h-3zM977 795h3V802h-3zM984 788h3V802h-3zM991 788h3V802h-3zM998 793h3V802h-3zM1003 785h3V802h-3z"/><path fill="#00ff00" d="M6 762h3V802h-3zM10 778h3V802h-3zM13 766h3V802h-3zM17 781h3V802h-3zM19 778h3V802h-3zM24 774h3V802h-3zM26 733h3V802h-3zM31 756h3V802h-3zM33 736h3V802h-3zM38 740h3V802h-3zM40 687h3V802h-3zM47 699h3V802h-3zM52 725h3V802h-3zM54 661h3V802h-3zM58 726h3V802h-3zM61 711h3V802h-3zM65 721h3V802h-3zM68 635h3V802h-3zM75 732h3V802h-3zM79 762h3V802h-3zM81 736h3V802h-3zM86 751h3V802h-3zM88 725h3V802h-3zM93 742h3V802h-3zM95 741h3V802h-3zM100 723h3V802h-3zM102 719h3V802h-3zM107 754h3V802h-3zM109 740h3V802h-3zM114 773h3V802h-3zM116 750h3V802h-3zM120 772h3V802h-3zM123 736h3V802h-3zM127 765h3V802h-3zM130 749h3V802h-3zM134 769h3V802h-3zM137 746h3V802h-3zM141 767h3V802h-3zM143 742h3V802h-3zM150 767h3V802h-3zM155 777h3V802h-3zM157 757h3V802h-3zM162 770h3V802h-3zM164 764h3V802h-3zM169 771h3V802h-3zM171 755h3V802h-3zM176 768h3V802h-3zM178 766h3V802h-3zM183 770h3V802h-3zM185 761h3V802h-3zM189 780h3V802h-3zM192 756h3V802h-3zM196 768h3V802h-3zM199 749h3V802h-3zM205 773h3V802h-3zM212 775h3V802h-3zM219 786h3V802h-3zM222 780h3V802h-3zM226 788h3V802h-3zM228 766h3V802h-3zM233 780h3V802h-3zM235 779h3V802h-3zM240 782h3V802h-3zM242 781h3V802h-3zM247 786h3V802h-3zM249 786h3V802h-3zM254 781h3V802h-3zM256 779h3V802h-3zM261 771h3V802h-3zM268 775h3V802h-3zM270 770h3V802h-3zM274 781h3V802h-3zM277 779h3V802h-3zM281 786h3V802h-3zM284 778h3V802h-3zM288 781h3V802h-3zM290 769h3V802h-3zM295 784h3V802h-3zM297 780h3V802h-3zM302 779h3V802h-3zM304 776h3V802h-3zM309 781h3V802h-3zM311 773h3V802h-3zM316 783h3V802h-3zM323 779h3V802h-3zM325 770h3V802h-3zM330 782h3V802h-3zM332 776h3V802h-3zM336 772h3V802h-3zM343 784h3V802h-3zM346 783h3V802h-3zM350 784h3V802h-3zM357 778h3V802h-3zM359 775h3V802h-3zM364 781h3V802h-3zM366 774h3V802h-3zM371 782h3V802h-3zM373 774h3V802h-3zM380 778h3V802h-3zM387 780h3V802h-3zM392 775h3V802h-3zM394 772h3V802h-3zM398 784h3V802h-3zM401 754h3V802h-3zM405 772h3V802h-3zM408 768h3V802h-3zM412 777h3V802h-3zM415 774h3V802h-3zM419 769h3V802h-3zM421 767h3V802h-3zM426 785h3V802h-3zM428 773h3V802h-3zM433 783h3V802h-3zM435 779h3V802h-3zM440 758h3V802h-3zM447 780h3V802h-3zM449 769h3V802h-3zM454 770h3V802h-3zM456 766h3V802h-3zM463 771h3V802h-3zM467 787h3V802h-3zM470 781h3V802h-3zM474 780h3V802h-3zM477 777h3V802h-3zM481 777h3V802h-3zM483 765h3V802h-3zM488 779h3V802h-3zM490 771h3V802h-3zM495 767h3V802h-3zM502 781h3V802h-3zM504 776h3V802h-3zM511 776h3V802h-3zM516 785h3V802h-3zM518 774h3V802h-3zM522 770h3V802h-3zM529 782h3V802h-3zM532 772h3V802h-3zM536 778h3V802h-3zM543 783h3V802h-3zM545 772h3V802h-3zM550 780h3V802h-3zM552 778h3V802h-3zM557 787h3V802h-3zM559 777h3V802h-3zM564 785h3V802h-3zM566 763h3V802h-3zM571 786h3V802h-3zM573 781h3V802h-3zM578 771h3V802h-3zM580 748h3V802h-3zM584 774h3V802h-3zM587 758h3V802h-3zM591 783h3V802h-3zM594 779h3V802h-3zM598 784h3V802h-3zM605 777h3V802h-3zM612 777h3V802h-3zM619 784h3V802h-3zM621 775h3V802h-3zM626 785h3V802h-3zM628 785h3V802h-3zM633 784h3V802h-3zM635 773h3V802h-3zM640 779h3V802h-3zM642 775h3V802h-3zM647 779h3V802h-3zM649 764h3V802h-3zM653 783h3V802h-3zM656 766h3V802h-3zM665 780h3V802h-3zM667 766h3V802h-3zM672 784h3V802h-3zM674 758h3V802h-3zM679 787h3V802h-3zM681 773h3V802h-3zM686 772h3V802h-3zM688 770h3V802h-3zM692 791h3V802h-3zM695 779h3V802h-3zM699 786h3V802h-3zM702 775h3V802h-3zM706 785h3V802h-3zM709 773h3V802h-3zM713 778h3V802h-3zM715 762h3V802h-3zM720 786h3V802h-3zM722 768h3V802h-3zM727 788h3V802h-3zM729 768h3V802h-3zM734 786h3V802h-3zM736 757h3V802h-3zM741 779h3V802h-3zM743 759h3V802h-3zM748 778h3V802h-3zM750 755h3V802h-3zM754 779h3V802h-3zM757 768h3V802h-3zM761 780h3V802h-3zM764 766h3V802h-3zM768 779h3V802h-3zM771 767h3V802h-3zM775 778h3V802h-3zM777 762h3V802h-3zM782 786h3V802h-3zM784 768h3V802h-3zM789 780h3V802h-3zM791 767h3V802h-3zM796 786h3V802h-3zM798 772h3V802h-3zM803 789h3V802h-3zM805 777h3V802h-3zM810 791h3V802h-3zM812 779h3V802h-3zM816 783h3V802h-3zM819 779h3V802h-3zM823 788h3V802h-3zM826 778h3V802h-3zM830 784h3V802h-3zM833 766h3V802h-3zM837 778h3V802h-3zM839 758h3V802h-3zM844 782h3V802h-3zM846 767h3V802h-3zM851 781h3V802h-3zM853 750h3V802h-3zM858 788h3V802h-3zM860 762h3V802h-3zM865 787h3V802h-3zM867 771h3V802h-3zM872 787h3V802h-3zM874 772h3V802h-3zM879 787h3V802h-3zM881 765h3V802h-3zM885 781h3V802h-3zM888 764h3V802h-3zM895 781h3V802h-3zM899 791h3V802h-3zM901 780h3V802h-3zM906 784h3V802h-3zM915 795h3V802h-3zM918 788h3V802h-3zM922 788h3V802h-3zM924 776h3V802h-3zM929 782h3V802h-3zM931 717h3V802h-3zM938 780h3V802h-3zM945 797h3V802h-3zM947 775h3V802h-3zM952 760h3V802h-3zM959 779h3V802h-3zM961 770h3V802h-3zM966 733h3V802h-3zM973 784h3V802h-3zM975 767h3V802h-3zM980 781h3V802h-3zM982 756h3V802h-3zM986 780h3V802h-3zM989 756h3V802h-3zM993 785h3V802h-3zM996 766h3V802h-3zM1000 780h3V802h-3z"/></g>
<g shape-rendering="crispEdges">
<rect x="6" y="3" width="1116" height="1" fill="#000"/>
<rect x="1121" y="3" width="1" height="812" fill="#404040"/>
<rect x="6" y="618" width="1116" height="2" fill="#5a5a5a"/>
<rect x="6" y="814" width="1116" height="1" fill="#000"/>
</g>
<text transform="translate(1138 16.6) scale(1.03 1.07)">34</text><text transform="translate(1138 116.6) scale(1.03 1.07)">33.500</text><text transform="translate(1138 216.6) scale(1.03 1.07)">33</text><text transform="translate(1138 316.6) scale(1.03 1.07)">32.500</text><text transform="translate(1138 416.6) scale(1.03 1.07)">32</text><text transform="translate(1138 516.6) scale(1.03 1.07)">31.500</text><text transform="translate(1138 616.6) scale(1.03 1.07)">31</text><text transform="translate(1177 632.6) scale(1.03 1.07)" text-anchor="end">15000</text><text transform="translate(1177 690.6) scale(1.03 1.07)" text-anchor="end">10000</text><text transform="translate(1177 748.6) scale(1.03 1.07)" text-anchor="end">5000</text><text transform="translate(1177 807.1) scale(1.03 1.07)" text-anchor="end">0</text><rect x="1121.5" y="134.5" width="58" height="13.4" fill="#0000dd" stroke="#000" stroke-width="1"/><text transform="translate(1138 146.3) scale(1.03 1.07)" fill="#fff">33.348</text><rect x="1121.5" y="151.5" width="58" height="13.4" fill="#0000dd" stroke="#000" stroke-width="1"/><text transform="translate(1138 163.3) scale(1.03 1.07)" fill="#fff">33.265</text><rect x="1121.5" y="147.5" width="58" height="13.4" fill="#000" stroke="#000" stroke-width="1"/><text transform="translate(1138 159.3) scale(1.03 1.07)" fill="#fff">33.281</text><path d="M1123.6 158.2L1126.1 152L1128.6 158.2z" fill="#fff"/><rect x="1121.5" y="209.5" width="58" height="13.4" fill="#0000dd" stroke="#000" stroke-width="1"/><text transform="translate(1138 221.3) scale(1.03 1.07)" fill="#fff">32.974</text><rect x="1121.5" y="268.5" width="58" height="13.4" fill="#0000dd" stroke="#000" stroke-width="1"/><rect x="1121.5" y="271.5" width="58" height="13.4" fill="#ff8040" stroke="#000" stroke-width="1"/><text transform="translate(1138 283.3) scale(1.03 1.07)" fill="#fff">32.663</text><rect x="1121.5" y="294.5" width="58" height="13.4" fill="#0000dd" stroke="#000" stroke-width="1"/><text transform="translate(1138 306.3) scale(1.03 1.07)" fill="#fff">32.550</text><rect x="1121.5" y="358.5" width="58" height="13.4" fill="#008000" stroke="#000" stroke-width="1"/><text transform="translate(1138 370.3) scale(1.03 1.07)" fill="#fff">32.225</text><rect x="1121.5" y="449.5" width="58" height="13.4" fill="#0000dd" stroke="#000" stroke-width="1"/><text transform="translate(1138 461.3) scale(1.03 1.07)" fill="#fff">31.774</text><rect x="1121.5" y="508.5" width="58" height="13.4" fill="#0000dd" stroke="#000" stroke-width="1"/><text transform="translate(1138 520.3) scale(1.03 1.07)" fill="#fff">31.480</text><rect x="1121.5" y="778.5" width="58" height="14" fill="#00ff00" stroke="#000" stroke-width="1" shape-rendering="crispEdges"/><text transform="translate(1177 791) scale(1.03 1.07)" text-anchor="end">1311</text><rect x="8" y="622" width="46" height="13" fill="#606060" shape-rendering="crispEdges"/><rect x="6" y="620" width="46" height="13" fill="#fff" shape-rendering="crispEdges"/><text transform="translate(8 631.3) scale(0.98 1.07)">Volume</text><text transform="translate(8.3 812.5) scale(0.97 1.07)">июн 21</text><text transform="translate(8.5 830) scale(1 1.07)">12:00</text><text transform="translate(60.3 812.5) scale(0.97 1.07)">июл 03</text><text transform="translate(60.5 830) scale(1 1.07)">8:00</text><text transform="translate(109.3 812.5) scale(0.97 1.07)">июл 12</text><text transform="translate(109.5 830) scale(1 1.07)">8:00</text><text transform="translate(157.3 812.5) scale(0.97 1.07)">июл 23</text><text transform="translate(157.5 830) scale(1 1.07)">8:00</text><text transform="translate(205.3 812.5) scale(0.97 1.07)">авг 01</text><text transform="translate(205.5 830) scale(1 1.07)">8:00</text><text transform="translate(249.3 812.5) scale(0.97 1.07)">авг 12</text><text transform="translate(249.5 830) scale(1 1.07)">8:00</text><text transform="translate(290.3 812.5) scale(0.97 1.07)">авг 20</text><text transform="translate(290.5 830) scale(1 1.07)">8:00</text><text transform="translate(332.3 812.5) scale(0.97 1.07)">авг 28</text><text transform="translate(332.5 830) scale(1 1.07)">8:00</text><text transform="translate(373.3 812.5) scale(0.97 1.07)">сен 05</text><text transform="translate(373.5 830) scale(1 1.07)">8:00</text><text transform="translate(422.3 812.5) scale(0.97 1.07)">сен 16</text><text transform="translate(422.5 830) scale(1 1.07)">8:00</text><text transform="translate(470.3 812.5) scale(0.97 1.07)">сен 25</text><text transform="translate(470.5 830) scale(1 1.07)">8:00</text><text transform="translate(518.3 812.5) scale(0.97 1.07)">окт 04</text><text transform="translate(518.5 830) scale(1 1.07)">8:00</text><text transform="translate(559.3 812.5) scale(0.97 1.07)">окт 14</text><text transform="translate(559.5 830) scale(1 1.07)">8:00</text><text transform="translate(601.3 812.5) scale(0.97 1.07)">окт 22</text><text transform="translate(601.5 830) scale(1 1.07)">8:00</text><text transform="translate(642.3 812.5) scale(0.97 1.07)">окт 30</text><text transform="translate(642.5 830) scale(1 1.07)">8:00</text><text transform="translate(688.3 812.5) scale(0.97 1.07)">ноя 08</text><text transform="translate(688.5 830) scale(1 1.07)">8:00</text><text transform="translate(736.3 812.5) scale(0.97 1.07)">ноя 19</text><text transform="translate(736.5 830) scale(1 1.07)">8:00</text><text transform="translate(784.3 812.5) scale(0.97 1.07)">ноя 28</text><text transform="translate(784.5 830) scale(1 1.07)">8:00</text><text transform="translate(832.3 812.5) scale(0.97 1.07)">дек 09</text><text transform="translate(832.5 830) scale(1 1.07)">8:00</text><text transform="translate(882.3 812.5) scale(0.97 1.07)">дек 18</text><text transform="translate(882.5 830) scale(1 1.07)">8:00</text><text transform="translate(924.3 812.5) scale(0.97 1.07)">дек 27</text><text transform="translate(924.5 830) scale(1 1.07)">8:00</text><text transform="translate(968.3 812.5) scale(0.97 1.07)">янв 07</text><text transform="translate(968.5 830) scale(1 1.07)">8:00</text><path d="M6.5 814V831M58.5 814V831M107.5 814V831M155.5 814V831M203.5 814V831M247.5 814V831M288.5 814V831M330.5 814V831M371.5 814V831M420.5 814V831M468.5 814V831M516.5 814V831M557.5 814V831M599.5 814V831M640.5 814V831M686.5 814V831M734.5 814V831M782.5 814V831M830.5 814V831M880.5 814V831M922.5 814V831M966.5 814V831" stroke="#000" stroke-width="1" fill="none" shape-rendering="crispEdges"/>
<text transform="translate(996.6 20.9) scale(1 1.07)" fill="#383838" textLength="102" lengthAdjust="spacingAndGlyphs">Powered by XTick</text>
<rect x="1120.5" y="816.5" width="19" height="13" fill="#fff" stroke="#000" stroke-width="1" shape-rendering="crispEdges"/>
<g fill="none" stroke="#555" stroke-width="1.6"><rect x="1123.8" y="820.6" width="7.4" height="5.4" rx="2.6"/><rect x="1129" y="820.6" width="7.4" height="5.4" rx="2.6"/></g>
<path d="M1127 823.3H1133.2" stroke="#8a8a8a" stroke-width="1.4" fill="none"/>
<rect x="1149.5" y="817.5" width="14" height="13" fill="#9a9a9a"/>
<rect x="1148.7" y="816.6" width="14" height="13" fill="#cc0000" stroke="#8a8a8a" stroke-width="0.6"/>
<path d="M1150.2 822.3H1154V819.3L1158.2 823.1L1154 826.9V824H1150.2zM1159.5 819.9h1.5v6.4h-1.5z" fill="#fff"/>
<rect x="0" y="836.8" width="1182" height="1.2" fill="#fff"/><rect x="0" y="838" width="1182" height="28" fill="#404040"/>
<text class="f" x="10" y="856">Элитный Трейдер, ELITETRADER.RU</text>
<defs><linearGradient id="ga" x1="0" x2="0" y1="0" y2="1"><stop offset="0" stop-color="#b4e84a"/><stop offset="0.5" stop-color="#6cc21c"/><stop offset="1" stop-color="#1e6a00"/></linearGradient><linearGradient id="gb" x1="0" x2="0" y1="0" y2="1"><stop offset="0" stop-color="#f6c22a"/><stop offset="1" stop-color="#d42a10"/></linearGradient><linearGradient id="gc" x1="0" x2="1" y1="0" y2="1"><stop offset="0" stop-color="#9ad21e"/><stop offset="0.35" stop-color="#f6a400"/><stop offset="0.7" stop-color="#ff8a00"/><stop offset="1" stop-color="#f0487e"/></linearGradient></defs>
<path d="M1067.3 842.4L1075 850.6H1070.8V858.4H1064.4V850.6H1059.8z" fill="url(#ga)"/>
<rect x="1057.8" y="853.3" width="9" height="5.6" rx="1" fill="url(#gb)"/>
<text x="1078.8" y="857.3" style="font-weight:bold;font-size:17px;fill:#fff" textLength="23.5" lengthAdjust="spacingAndGlyphs">clip</text>
<circle cx="1109.2" cy="851.5" r="8.3" fill="url(#gc)"/>
<text x="1109.2" y="857.3" text-anchor="middle" style="font-weight:bold;font-size:17px;font-size:16px;fill:#fff">2</text>
<text x="1117.2" y="857.3" style="font-weight:bold;font-size:17px;fill:#fff" textLength="20.5" lengthAdjust="spacingAndGlyphs">net</text>
<text x="1138.6" y="857.3" style="font-weight:bold;font-size:17px;fill:#8e9696" textLength="33.8" lengthAdjust="spacingAndGlyphs">.com</text>
</svg></body></html>
